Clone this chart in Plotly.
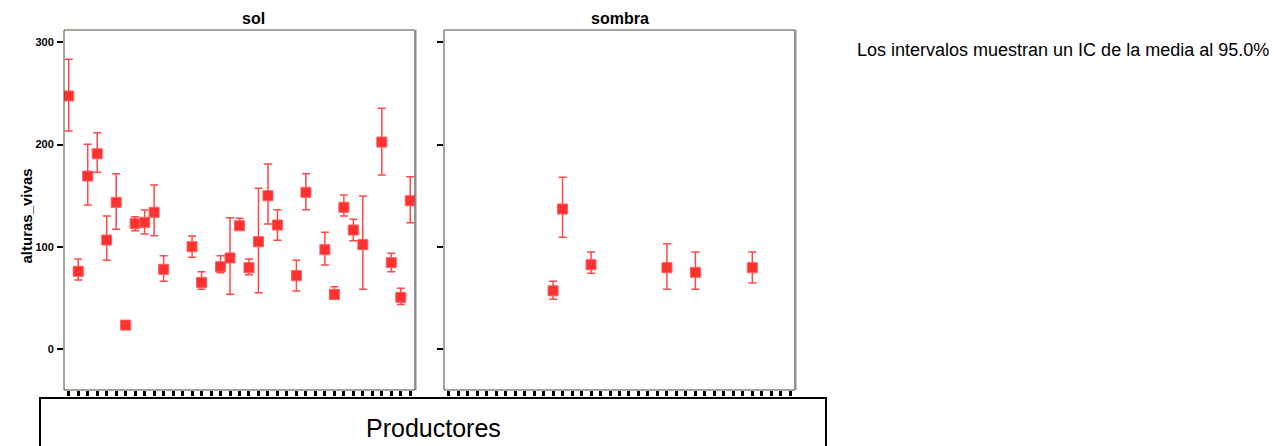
import plotly.graph_objects as go

# ---- data ----
productores = list(range(1, 38))  # 37 producer categories on the x axis

sol_prod = [1, 2, 3, 4, 5, 6, 7, 8, 9, 10, 11, 14, 15, 17, 18, 19, 20, 21, 22, 23,
            25, 26, 28, 29, 30, 31, 32, 34, 35, 36, 37]
sol_mean = [247.4, 76.2, 169.2, 191.0, 106.7, 143.5, 23.7, 122.7, 124.0, 133.8, 78.1,
            100.2, 65.4, 80.7, 89.2, 120.7, 79.7, 105.1, 150.0, 121.4,
            71.9, 153.3, 97.3, 53.7, 138.7, 116.5, 102.2, 202.4, 84.6, 50.8, 145.1]
sol_low = [213.2, 67.7, 140.9, 172.9, 86.9, 117.2, 22.5, 115.8, 112.6, 111.0, 66.4,
           89.8, 58.6, 74.8, 53.7, 117.2, 72.9, 55.3, 122.4, 106.4,
           56.9, 136.3, 82.3, 49.4, 130.2, 106.1, 58.6, 170.2, 75.8, 43.9, 123.6]
sol_high = [283.2, 88.2, 200.2, 211.5, 130.2, 171.5, 25.0, 129.5, 136.0, 160.4, 91.4,
            110.6, 75.8, 91.4, 128.5, 127.9, 88.2, 157.2, 181.0, 136.3,
            86.9, 171.5, 114.3, 61.1, 150.7, 126.9, 149.7, 235.4, 93.8, 59.6, 168.6]

sombra_prod = [12, 13, 16, 24, 27, 33]
sombra_mean = [57.2, 137.0, 82.6, 79.7, 75.2, 79.7]
sombra_low = [48.8, 109.4, 74.2, 58.6, 58.6, 64.7]
sombra_high = [66.4, 168.0, 95.0, 103.1, 95.0, 95.0]

y_ticks = [0, 100, 200, 300]
panel_titles = ["sol", "sombra"]
y_title = "alturas_vivas"
x_title = "Productores"
note = "Los intervalos muestran un IC de la media al 95.0%"

# ---- layout geometry (pixels of the 1274x446 page) ----
W, H = 1274, 446
px = lambda x: x / W
py = lambda y: 1 - y / H
dom1 = [px(64), px(415)]
dom2 = [px(444), px(795)]
ydom = [py(390), py(30)]

RED = "#ff3030"
ERR = "#ff4848"

fig = go.Figure()

def add_series(xs, m, lo, hi, xa, ya):
    fig.add_trace(go.Scatter(
        x=xs, y=m, mode="markers", xaxis=xa, yaxis=ya,
        marker=dict(symbol="square", size=10, color=RED,
                    line=dict(color="#ff5c5c", width=1)),
        error_y=dict(type="data", symmetric=False,
                     array=[h - v for h, v in zip(hi, m)],
                     arrayminus=[v - l for v, l in zip(m, lo)],
                     color=ERR, thickness=1.5, width=4),
        showlegend=False, hoverinfo="skip"))

add_series(sol_prod, sol_mean, sol_low, sol_high, "x", "y")
add_series(sombra_prod, sombra_mean, sombra_low, sombra_high, "x2", "y2")

xcommon = dict(range=[0.5, 37.5], tickvals=productores,
               ticktext=[""] * len(productores), ticks="outside",
               ticklen=5, tickwidth=3, tickcolor="black",
               showgrid=False, zeroline=False, showline=False)
ycommon = dict(range=[-39.7, 311.8], tickvals=y_ticks, ticks="outside",
               ticklen=6, tickwidth=2, tickcolor="black",
               showgrid=False, zeroline=False, showline=False, domain=ydom)

fig.update_layout(
    width=W, height=H,
    margin=dict(l=0, r=0, t=0, b=0),
    paper_bgcolor="white", plot_bgcolor="white",
    font=dict(family="Arial", color="black"),
    xaxis=dict(domain=dom1, anchor="y", **xcommon),
    xaxis2=dict(domain=dom2, anchor="y2", **xcommon),
    yaxis=dict(anchor="x", ticklabelstandoff=1,
               tickfont=dict(size=11, family="Arial", weight="bold", color="black"),
               **ycommon),
    yaxis2=dict(anchor="x2", showticklabels=False, **ycommon),
)

shapes = []
for d in (dom1, dom2):
    shapes.append(dict(type="rect", xref="paper", yref="paper",
                       x0=d[0], x1=d[1], y0=ydom[0], y1=ydom[1],
                       line=dict(color="#4a4a38", width=1), layer="above"))
    shapes.append(dict(type="line", xref="paper", yref="paper",
                       x0=d[1] + px(0.5), x1=d[1] + px(0.5), y0=ydom[0], y1=ydom[1],
                       line=dict(color="#8c8c8c", width=2), layer="above"))
# Productores box
shapes.append(dict(type="rect", xref="paper", yref="paper",
                   x0=px(40), x1=px(826), y0=-0.2, y1=py(398),
                   line=dict(color="black", width=2), fillcolor="rgba(0,0,0,0)"))
fig.update_layout(shapes=shapes)

ann = []
for t, d in zip(panel_titles, (dom1, dom2)):
    ann.append(dict(text="<b>%s</b>" % t, x=(d[0] + d[1]) / 2, y=py(18),
                    xref="paper", yref="paper", showarrow=False, yanchor="middle",
                    font=dict(size=16, family="Arial")))
ann.append(dict(text="<b>%s</b>" % y_title, x=px(15), y=py(216), textangle=-90,
                xref="paper", yref="paper", showarrow=False, yanchor="middle",
                font=dict(size=15, family="Arial")))
ann.append(dict(text=x_title, x=px(433), y=py(428), xref="paper", yref="paper",
                showarrow=False, yanchor="middle", font=dict(size=25, family="Arial")))
ann.append(dict(text=note, x=px(855), y=py(50), xanchor="left", yanchor="middle",
                xref="paper", yref="paper", showarrow=False,
                font=dict(size=18, family="Arial")))
fig.update_layout(annotations=ann)

fig.write_html("out.html")
